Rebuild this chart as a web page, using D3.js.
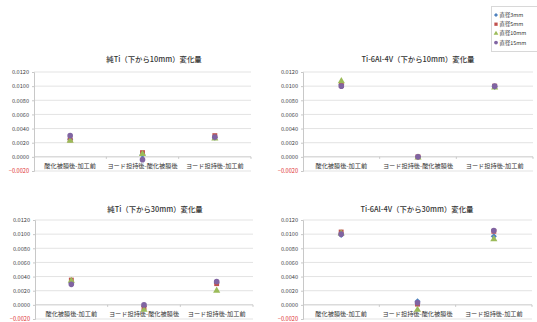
<!DOCTYPE html>
<html>
<head>
<meta charset="utf-8">
<script src="https://cdn.jsdelivr.net/npm/d3@7"></script>
<style>
  html, body { margin: 0; padding: 0; background: #fff; }
  svg { display: block; }
  text { font-family: "Noto Sans CJK JP", "Noto Sans", sans-serif; }
</style>
</head>
<body>
<svg id="chart" width="537" height="322"></svg>
<script>
// Categories (differences between process stages)
const categories = ["酸化被膜後-加工前", "ヨード担持後-酸化被膜後", "ヨード担持後-加工前"];
const seriesNames = ["直径3mm", "直径5mm", "直径10mm", "直径15mm"];
const yTicks = [-0.002, 0, 0.002, 0.004, 0.006, 0.008, 0.010, 0.012];

// Change values per series, one value per category
const tiPure10_d3  = [0.0025, 0.0003, 0.0027];
const tiPure10_d5  = [0.0024, 0.0006, 0.0030];
const tiPure10_d10 = [0.0023, 0.0004, 0.0026];
const tiPure10_d15 = [0.0030, -0.0004, 0.0028];

const ti64_10_d3  = [0.0102, 0.0000, 0.0099];
const ti64_10_d5  = [0.0101, 0.0000, 0.0100];
const ti64_10_d10 = [0.0107, -0.0001, 0.0098];
const ti64_10_d15 = [0.0100, 0.0000, 0.0100];

const tiPure30_d3  = [0.0031, -0.0002, 0.0031];
const tiPure30_d5  = [0.0035, -0.0004, 0.0030];
const tiPure30_d10 = [0.0034, -0.0007, 0.0020];
const tiPure30_d15 = [0.0029, 0.0000, 0.0033];

const ti64_30_d3  = [0.0099, 0.0005, 0.0097];
const ti64_30_d5  = [0.0103, 0.0001, 0.0104];
const ti64_30_d10 = [0.0101, -0.0007, 0.0093];
const ti64_30_d15 = [0.0100, 0.0003, 0.0105];

const colors = ["#4F81BD", "#C0504D", "#9BBB59", "#8064A2"];
const symbols = [d3.symbolDiamond2, d3.symbolSquare, d3.symbolTriangle, d3.symbolCircle];
const symSizes = [24, 24, 22, 25];

const panels = [
  { title: "純Ti（下から10mm）変化量", titleX: 154, titleY: 62,
    x0: 34, x1: 251, yTop: 72, yBot: 171,
    data: [tiPure10_d3, tiPure10_d5, tiPure10_d10, tiPure10_d15] },
  { title: "Ti-6Al-4V（下から10mm）変化量", titleX: 418, titleY: 62,
    x0: 303, x1: 533, yTop: 72, yBot: 171,
    data: [ti64_10_d3, ti64_10_d5, ti64_10_d10, ti64_10_d15] },
  { title: "純Ti（下から30mm）変化量", titleX: 155, titleY: 212,
    x0: 35, x1: 253, yTop: 220, yBot: 319,
    data: [tiPure30_d3, tiPure30_d5, tiPure30_d10, tiPure30_d15] },
  { title: "Ti-6Al-4V（下から30mm）変化量", titleX: 417, titleY: 212,
    x0: 303, x1: 532, yTop: 220, yBot: 319,
    data: [ti64_30_d3, ti64_30_d5, ti64_30_d10, ti64_30_d15] }
];

const svg = d3.select("#chart");

panels.forEach(p => {
  const g = svg.append("g");
  const x = d3.scaleBand().domain(categories).range([p.x0, p.x1]).padding(0);
  const y = d3.scaleLinear().domain([-0.002, 0.012]).range([p.yBot, p.yTop]);

  // horizontal gridlines
  g.append("g").selectAll("line").data(yTicks.filter(t => t !== 0)).join("line")
    .attr("x1", p.x0).attr("x2", p.x1)
    .attr("y1", d => y(d)).attr("y2", d => y(d))
    .attr("stroke", "#e3e3e3").attr("stroke-width", 1);

  // value axis
  const ya = g.append("g").attr("transform", `translate(${p.x0},0)`)
    .call(d3.axisLeft(y).tickValues(yTicks).tickFormat(d3.format(".4f")).tickSize(2).tickPadding(3));
  ya.select(".domain").attr("stroke", "#c8c8c8");
  ya.selectAll(".tick line").attr("stroke", "#c8c8c8");
  ya.selectAll(".tick text")
    .attr("font-size", 5.6)
    .attr("fill", d => d < 0 ? "#e03030" : "#444");

  // category axis along zero
  g.append("line").attr("x1", p.x0).attr("x2", p.x1)
    .attr("y1", y(0)).attr("y2", y(0)).attr("stroke", "#c8c8c8");
  g.append("g").selectAll("line").data([1, 2, 3]).join("line")
    .attr("x1", i => i < 3 ? x(categories[i]) : p.x1)
    .attr("x2", i => i < 3 ? x(categories[i]) : p.x1)
    .attr("y1", y(0)).attr("y2", y(0) + 2)
    .attr("stroke", "#c8c8c8");
  g.append("g").selectAll("text").data(categories).join("text")
    .attr("x", d => x(d) + x.bandwidth() / 2)
    .attr("y", y(0) + 11)
    .attr("text-anchor", "middle")
    .attr("font-size", 6.2)
    .attr("fill", "#333")
    .text(d => d);

  // title
  g.append("text").attr("x", p.titleX).attr("y", p.titleY)
    .attr("text-anchor", "middle").attr("font-size", 7.4)
    .attr("fill", "#333").attr("font-weight", 500)
    .text(p.title);

  // markers
  p.data.forEach((vals, si) => {
    g.append("g").selectAll("path").data(vals).join("path")
      .attr("transform", (v, ci) => `translate(${x(categories[ci]) + x.bandwidth() / 2},${y(v)})`)
      .attr("d", d3.symbol().type(symbols[si]).size(symSizes[si]))
      .attr("fill", colors[si]);
  });
});

// legend
const lg = svg.append("g");
lg.append("rect").attr("x", 491.5).attr("y", 6.5).attr("width", 50).attr("height", 45)
  .attr("fill", "#fff").attr("stroke", "#d8d8d8");
seriesNames.forEach((name, i) => {
  const cy = 15 + i * 9.2;
  lg.append("path")
    .attr("transform", `translate(496,${cy})`)
    .attr("d", d3.symbol().type(symbols[i]).size(symSizes[i] * 0.45))
    .attr("fill", colors[i]);
  lg.append("text").attr("x", 499.5).attr("y", cy + 2)
    .attr("font-size", 5.4).attr("fill", "#333").text(name);
});
</script>
</body>
</html>
